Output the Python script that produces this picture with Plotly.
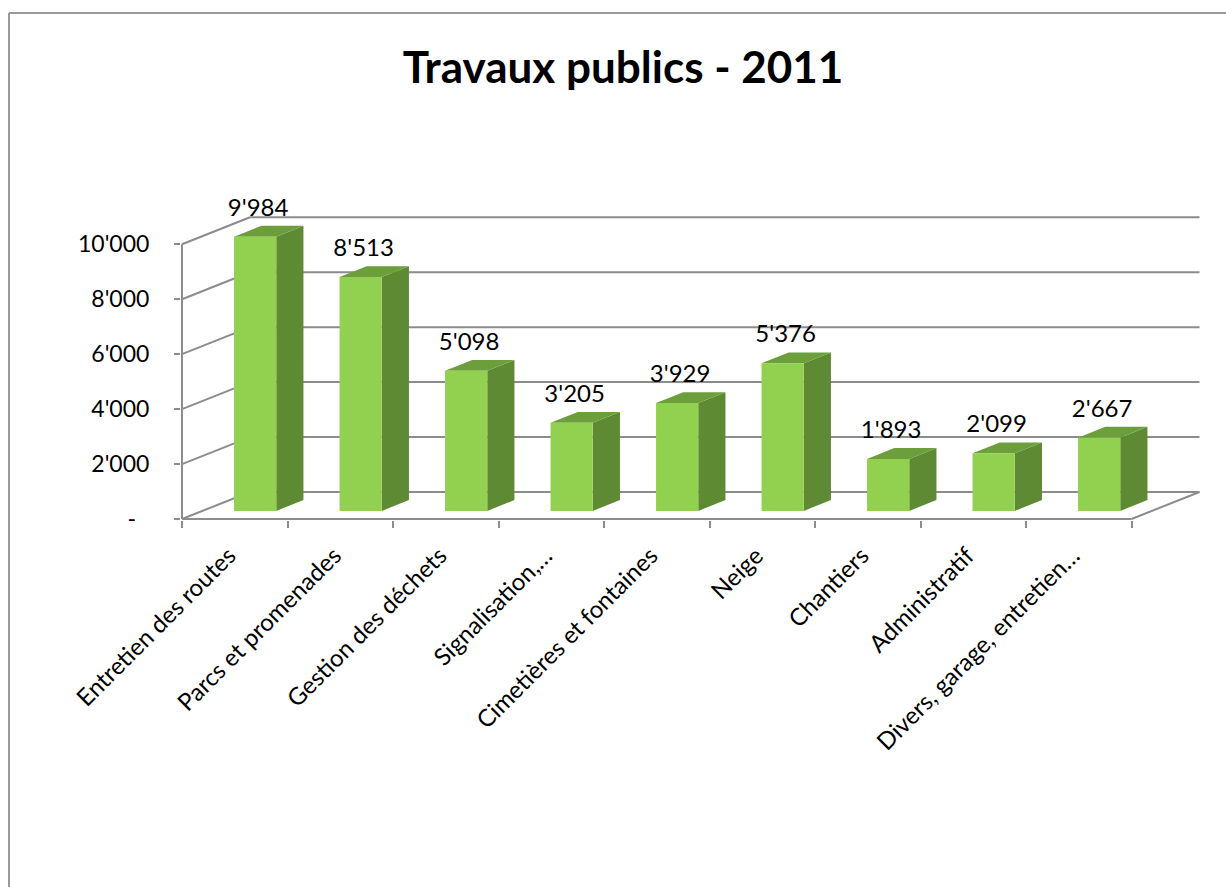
import plotly.graph_objects as go

# ---- data -------------------------------------------------------------
categories = [
    "Entretien des routes",
    "Parcs et promenades",
    "Gestion des déchets",
    "Signalisation,…",
    "Cimetières et fontaines",
    "Neige",
    "Chantiers",
    "Administratif",
    "Divers, garage, entretien…",
]
values = [9984, 8513, 5098, 3205, 3929, 5376, 1893, 2099, 2667]
y_tick_values = [0, 2000, 4000, 6000, 8000, 10000]
y_tick_text = ["-\u2007", "2'000", "4'000", "6'000", "8'000", "10'000"]

# ---- oblique "3D" projection settings --------------------------------
W, H = 1226, 887
PX_PER_CAT = 105.5          # horizontal pixels per category slot
PX_PER_UNIT = 0.02747       # vertical pixels per value unit
ORIGIN_PX = (182, 519)      # front-left-bottom corner of the floor
DEPTH_X = 68 / PX_PER_CAT   # receding depth, category units
DEPTH_Y = 27 / PX_PER_UNIT  # receding depth, value units
BAR_W = 0.4
BAR_D0, BAR_D1 = 0.3, 0.7   # bar front / back along depth
LABEL_NUDGE = -6 / PX_PER_CAT  # category label anchor offset

PLOT_L, PLOT_R, PLOT_T, PLOT_B = 181, 1215, 150, 520
x_range = [(PLOT_L - ORIGIN_PX[0]) / PX_PER_CAT, (PLOT_R - ORIGIN_PX[0]) / PX_PER_CAT]
y_range = [(ORIGIN_PX[1] - PLOT_B) / PX_PER_UNIT, (ORIGIN_PX[1] - PLOT_T) / PX_PER_UNIT]

GRID = "#8c8c8c"
FRONT = "#92d050"
SIDE = "#5e8a34"
TOP = "#6c9f3b"
FONT = "Lato, Open Sans, sans-serif"
n = len(categories)
y_max = y_tick_values[-1]


def fmt(v):
    return f"{v:,}".replace(",", "'")


def proj(x, y, d):
    """Shift a point (category, value) back by depth fraction d."""
    return x + d * DEPTH_X, y + d * DEPTH_Y


fig = go.Figure()

# ---- walls, floor and gridlines ----------------------------------------
wx, wy = [], []


def seg(p, q):
    wx.extend([p[0], q[0], None])
    wy.extend([p[1], q[1], None])


for v in y_tick_values:
    seg((0, v), proj(0, v, 1))                 # side wall
    seg(proj(0, v, 1), proj(n, v, 1))          # back wall
seg((0, 0), (0, y_max))                        # front value axis
seg((0, 0), (n, 0))                            # front floor edge
seg((n, 0), proj(n, 0, 1))                     # right floor edge

fig.add_trace(go.Scatter(x=wx, y=wy, mode="lines",
                         line=dict(color=GRID, width=2),
                         hoverinfo="skip", showlegend=False))

# ---- bars as three shaded faces ---------------------------------------
side_x, side_y, top_x, top_y, front_x, front_y = [], [], [], [], [], []
for i, v in enumerate(values):
    left = i + 0.5 - BAR_W / 2
    right = i + 0.5 + BAR_W / 2
    # front face
    pts = [proj(left, 0, BAR_D0), proj(right, 0, BAR_D0),
           proj(right, v, BAR_D0), proj(left, v, BAR_D0)]
    front_x += [p[0] for p in pts] + [pts[0][0], None]
    front_y += [p[1] for p in pts] + [pts[0][1], None]
    # side face
    pts = [proj(right, 0, BAR_D0), proj(right, 0, BAR_D1),
           proj(right, v, BAR_D1), proj(right, v, BAR_D0)]
    side_x += [p[0] for p in pts] + [pts[0][0], None]
    side_y += [p[1] for p in pts] + [pts[0][1], None]
    # top face
    pts = [proj(left, v, BAR_D0), proj(right, v, BAR_D0),
           proj(right, v, BAR_D1), proj(left, v, BAR_D1)]
    top_x += [p[0] for p in pts] + [pts[0][0], None]
    top_y += [p[1] for p in pts] + [pts[0][1], None]

for xs, ys, col in [(side_x, side_y, SIDE), (top_x, top_y, TOP), (front_x, front_y, FRONT)]:
    fig.add_trace(go.Scatter(x=xs, y=ys, mode="lines", fill="toself",
                             fillcolor=col, line=dict(width=0, color=col),
                             hoverinfo="skip", showlegend=False))

# ---- value labels ------------------------------------------------------
lab_x, lab_y = [], []
for i, v in enumerate(values):
    px, py = proj(i + 0.5, v, BAR_D0)
    lab_x.append(px + 3 / PX_PER_CAT)
    lab_y.append(py + 27 / PX_PER_UNIT)
fig.add_trace(go.Scatter(x=lab_x, y=lab_y, mode="text",
                         text=[fmt(v) for v in values],
                         textposition="middle center",
                         textfont=dict(family=FONT, size=24, color="#000000"),
                         cliponaxis=False, hoverinfo="skip", showlegend=False))

# ---- layout --------------------------------------------------------------
plot_w = PLOT_R - PLOT_L
plot_h = PLOT_B - PLOT_T


def paper_x(px):
    return (px - PLOT_L) / plot_w


def paper_y(py):
    return 1 - (py - PLOT_T) / plot_h


fig.update_layout(
    width=W, height=H,
    margin=dict(l=PLOT_L, r=W - PLOT_R, t=PLOT_T, b=H - PLOT_B, autoexpand=False),
    paper_bgcolor="white", plot_bgcolor="white",
    font=dict(family=FONT, size=23, color="#000000"),
    title=dict(text="<b>Travaux publics - 2011</b>",
               font=dict(family=FONT, size=44, color="#000000"),
               x=623 / W, xref="container", xanchor="center",
               y=1 - 68 / H, yref="container", yanchor="middle"),
    xaxis=dict(range=x_range, showgrid=False, zeroline=False, showline=False,
               tickmode="array",
               tickvals=[i + 0.5 + LABEL_NUDGE for i in range(n)], ticktext=categories,
               tickangle=-45, ticks="", ticklabelstandoff=16,
               tickfont=dict(family=FONT, size=24, color="#000000"),
               minor=dict(tickmode="array", tickvals=list(range(n + 1)),
                          ticks="outside", ticklen=7, tickwidth=2, tickcolor=GRID,
                          showgrid=False),
               fixedrange=True),
    yaxis=dict(range=y_range, showgrid=False, zeroline=False, showline=False,
               tickmode="array", tickvals=y_tick_values, ticktext=y_tick_text,
               ticks="outside", ticklen=6, tickwidth=2, tickcolor=GRID,
               ticklabelstandoff=20,
               tickfont=dict(family=FONT, size=23, color="#000000"),
               fixedrange=True),
    shapes=[
        dict(type="line", xref="paper", yref="paper",
             x0=paper_x(9), x1=paper_x(W + 5), y0=paper_y(13), y1=paper_y(13),
             line=dict(color="#9a9a9a", width=2)),
        dict(type="line", xref="paper", yref="paper",
             x0=paper_x(9), x1=paper_x(9), y0=paper_y(13), y1=paper_y(H + 5),
             line=dict(color="#9a9a9a", width=2)),
    ],
)

fig.write_html("out.html")
